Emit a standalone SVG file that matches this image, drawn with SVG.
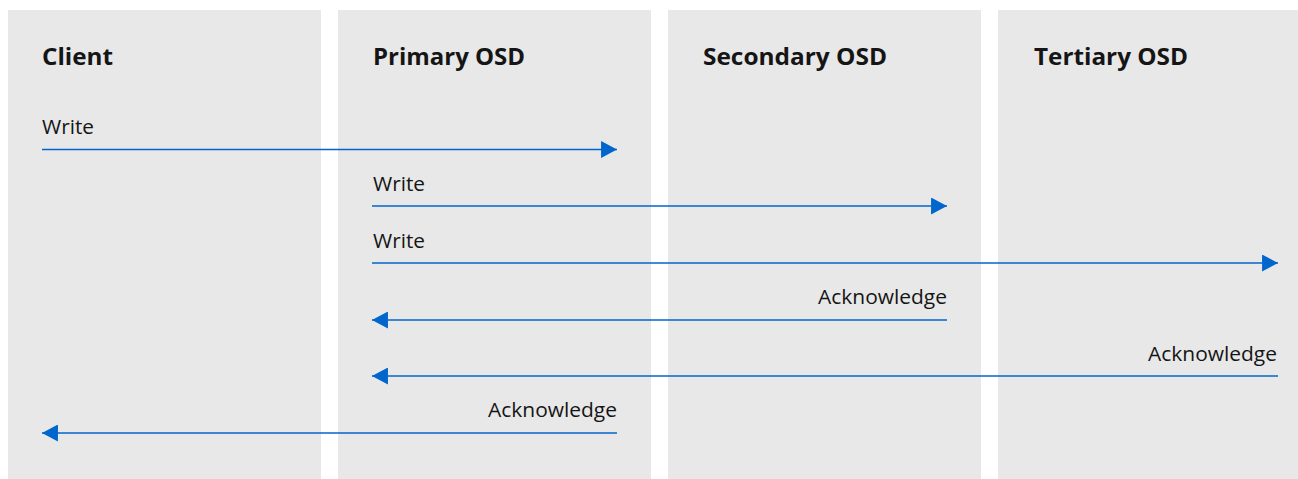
<svg xmlns="http://www.w3.org/2000/svg" width="1298" height="479" viewBox="0 0 1298 479">
<style>
.lane{fill:#e8e8e8}
.hdr{font-family:"Open Sans","Noto Sans",sans-serif;font-weight:700;font-size:23px;fill:#151515}
.lbl{font-family:"Open Sans","Noto Sans",sans-serif;font-weight:400;font-size:19.5px;fill:#151515}
.msg{stroke:#0066cc;stroke-width:1.6;fill:none}
</style>
<defs>
<marker id="ah" markerUnits="userSpaceOnUse" markerWidth="16" markerHeight="17" viewBox="0 0 15 16" refX="15" refY="8" orient="auto">
<path d="M0,0 L15,8 L0,16 Z" fill="#0066cc"/>
</marker>
</defs>
<rect width="1298" height="479" fill="#ffffff"/>
<g id="client">
<rect class="lane" x="8" y="10" width="313" height="469"/>
<text class="hdr" x="42" y="65" textLength="71" lengthAdjust="spacingAndGlyphs">Client</text>
</g>
<g id="primary-osd">
<rect class="lane" x="338" y="10" width="313" height="469"/>
<text class="hdr" x="373" y="65" textLength="152" lengthAdjust="spacingAndGlyphs">Primary OSD</text>
</g>
<g id="secondary-osd">
<rect class="lane" x="668" y="10" width="313" height="469"/>
<text class="hdr" x="703" y="65" textLength="184" lengthAdjust="spacingAndGlyphs">Secondary OSD</text>
</g>
<g id="tertiary-osd">
<rect class="lane" x="998" y="10" width="300" height="469"/>
<text class="hdr" x="1034" y="65" textLength="154" lengthAdjust="spacingAndGlyphs">Tertiary OSD</text>
</g>
<g id="connectors">
<line class="msg" x1="42" y1="149.5" x2="617" y2="149.5" marker-end="url(#ah)"/>
<text class="lbl" x="42" y="134" textLength="52" lengthAdjust="spacingAndGlyphs">Write</text>
<line class="msg" x1="372" y1="206" x2="947" y2="206" marker-end="url(#ah)"/>
<text class="lbl" x="373" y="191" textLength="52" lengthAdjust="spacingAndGlyphs">Write</text>
<line class="msg" x1="372" y1="263" x2="1278" y2="263" marker-end="url(#ah)"/>
<text class="lbl" x="373" y="248" textLength="52" lengthAdjust="spacingAndGlyphs">Write</text>
<line class="msg" x1="947" y1="320" x2="372" y2="320" marker-end="url(#ah)"/>
<text class="lbl" x="947" y="304" text-anchor="end" textLength="129" lengthAdjust="spacingAndGlyphs">Acknowledge</text>
<line class="msg" x1="1278" y1="376" x2="372" y2="376" marker-end="url(#ah)"/>
<text class="lbl" x="1277" y="361" text-anchor="end" textLength="129" lengthAdjust="spacingAndGlyphs">Acknowledge</text>
<line class="msg" x1="617" y1="433" x2="42" y2="433" marker-end="url(#ah)"/>
<text class="lbl" x="617" y="417" text-anchor="end" textLength="129" lengthAdjust="spacingAndGlyphs">Acknowledge</text>
</g>
</svg>
